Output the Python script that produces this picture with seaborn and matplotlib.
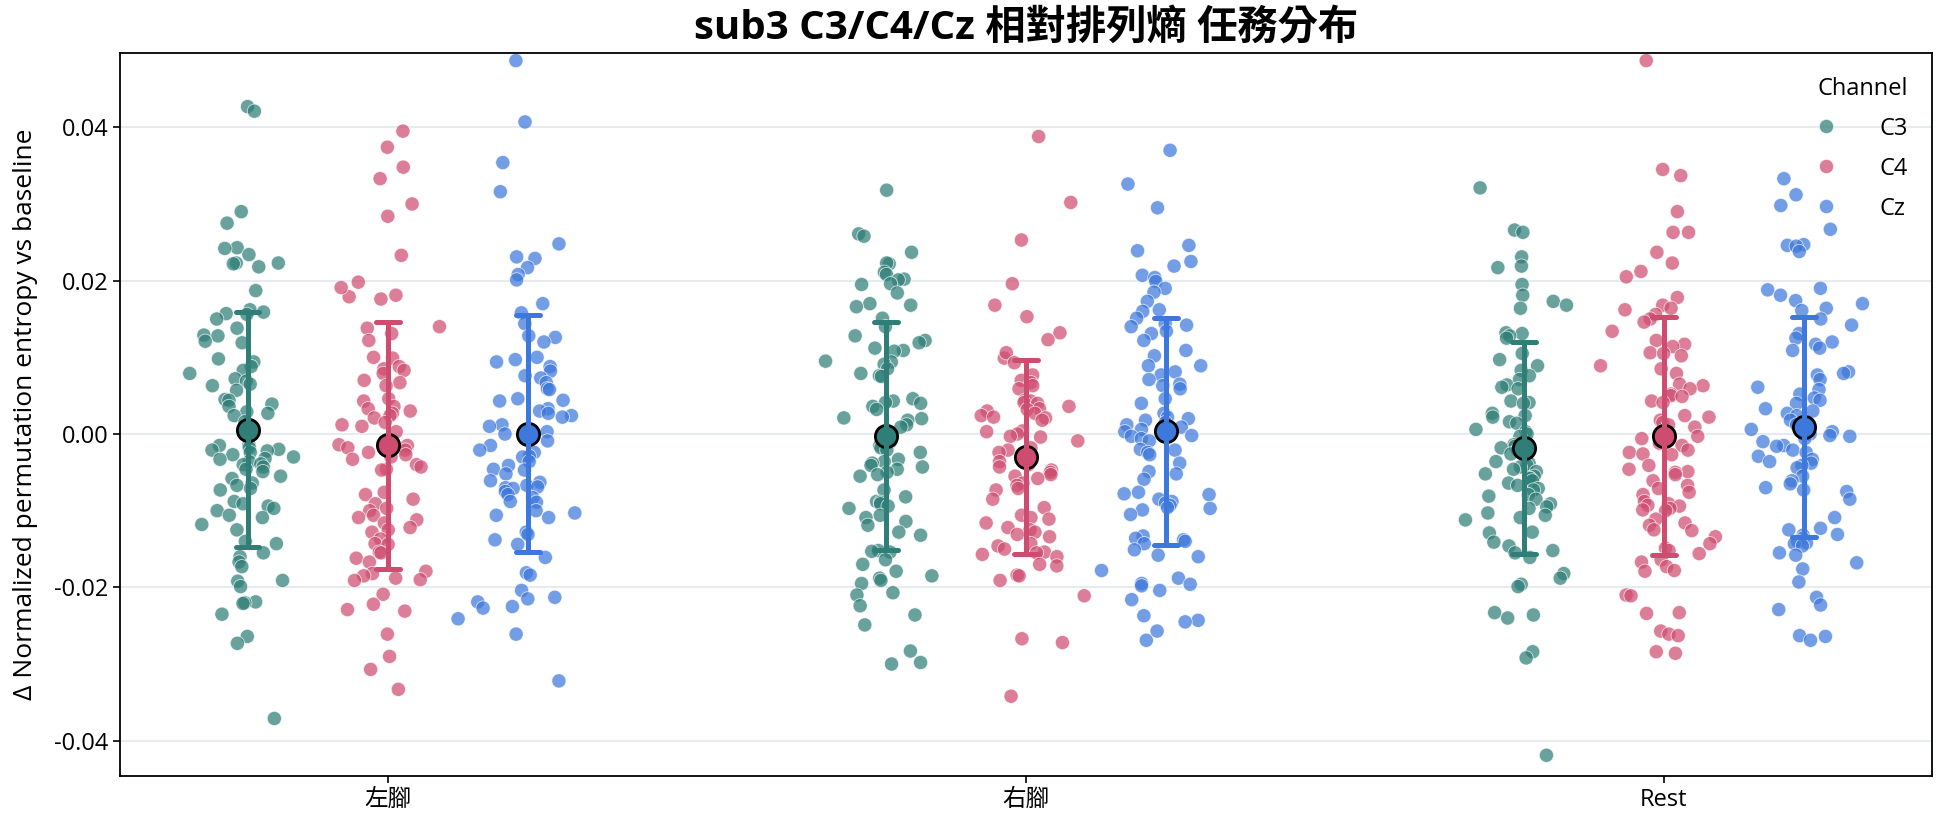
import numpy as np
import pandas as pd
import matplotlib
matplotlib.use("Agg")
import matplotlib.pyplot as plt
from matplotlib.ticker import FormatStrFormatter
import seaborn as sns

# ---------------- data ----------------
tasks = ["左腳", "右腳", "Rest"]
channels = ["C3", "C4", "Cz"]
palette = {"C3": "#2f7f78", "C4": "#cf4c71", "Cz": "#3d78dc"}

left_C3 = [0.0427, 0.0421, 0.0290, 0.0275, 0.0243, 0.0242, 0.0234, 0.0223, 0.0223, 0.0222, 0.0218,
           0.0187, 0.0162, 0.0157, 0.0156, 0.0159, 0.0150, 0.0138, 0.0129, 0.0128, 0.0121,
           0.0119, 0.0098, 0.0094, 0.0088, 0.0083, 0.0079, 0.0072, 0.0069, 0.0065, 0.0063, 0.0057,
           0.0045, 0.0044, 0.0039, 0.0036, 0.0029, 0.0027, 0.0024, 0.0016, 0.0009,
           -0.0014, -0.0015, -0.0018, -0.0020, -0.0021, -0.0022, -0.0024, -0.0027, -0.0030, -0.0032,
           -0.0033, -0.0036, -0.0039, -0.0040, -0.0043, -0.0046, -0.0049, -0.0055, -0.0058, -0.0064,
           -0.0067, -0.0071, -0.0073, -0.0088, -0.0091, -0.0094, -0.0097, -0.0100, -0.0106, -0.0109,
           -0.0118, -0.0125, -0.0140, -0.0143, -0.0155, -0.0160, -0.0167, -0.0173, -0.0191, -0.0192,
           -0.0199, -0.0219, -0.0220, -0.0221, -0.0235, -0.0264, -0.0273, -0.0371]
left_C4 = [0.0395, 0.0374, 0.0348, 0.0333, 0.0300, 0.0284, 0.0233, 0.0198, 0.0181, 0.0179, 0.0191, 0.0176,
           0.0138, 0.0131, 0.0140, 0.0122, 0.0100, 0.0099, 0.0088, 0.0085, 0.0079, 0.0083, 0.0067, 0.0070,
           0.0063, 0.0046, 0.0043, 0.0036, 0.0033, 0.0030, 0.0027, 0.0024, 0.0021, 0.0015, 0.0012, 0.0010,
           0.0003, -0.0014, -0.0015, -0.0018, -0.0021, -0.0024, -0.0027, -0.0030, -0.0033, -0.0040, -0.0043,
           -0.0046, -0.0047, -0.0076, -0.0079, -0.0085, -0.0091, -0.0097, -0.0100, -0.0106, -0.0109, -0.0112,
           -0.0116, -0.0122, -0.0125, -0.0128, -0.0137, -0.0143, -0.0144, -0.0154, -0.0155, -0.0162, -0.0167,
           -0.0179, -0.0182, -0.0185, -0.0188, -0.0190, -0.0191, -0.0209, -0.0222, -0.0229, -0.0231,
           -0.0261, -0.0290, -0.0307, -0.0333]
left_Cz = [0.0487, 0.0407, 0.0354, 0.0316, 0.0248, 0.0231, 0.0229, 0.0217, 0.0208, 0.0201,
           0.0170, 0.0158, 0.0144, 0.0128, 0.0126, 0.0120, 0.0100, 0.0097, 0.0094, 0.0088, 0.0082, 0.0076,
           0.0073, 0.0067, 0.0059, 0.0058, 0.0046, 0.0044, 0.0043, 0.0033, 0.0030, 0.0027, 0.0024, 0.0022,
           0.0012, 0.0010, 0.0003, 0.0000, -0.0004, -0.0009, -0.0015, -0.0021, -0.0024, -0.0029, -0.0030,
           -0.0036, -0.0041, -0.0046, -0.0047, -0.0052, -0.0061, -0.0063, -0.0067, -0.0069, -0.0070, -0.0071,
           -0.0075, -0.0079, -0.0083, -0.0088, -0.0089, -0.0100, -0.0103, -0.0106, -0.0109, -0.0128,
           -0.0131, -0.0138, -0.0144, -0.0161, -0.0181, -0.0184, -0.0204, -0.0213, -0.0215, -0.0219,
           -0.0225, -0.0227, -0.0241, -0.0261, -0.0322]
right_C3 = [0.0318, 0.0261, 0.0258, 0.0237, 0.0222, 0.0223, 0.0211, 0.0208, 0.0202, 0.0201, 0.0196, 0.0195,
            0.0184, 0.0170, 0.0168, 0.0166, 0.0151, 0.0140, 0.0128, 0.0122, 0.0119, 0.0112, 0.0109, 0.0108,
            0.0095, 0.0094, 0.0091, 0.0085, 0.0079, 0.0076, 0.0075, 0.0046, 0.0043, 0.0041, 0.0040, 0.0036,
            0.0032, 0.0021, 0.0020, 0.0018, 0.0012, 0.0009, -0.0006, -0.0010, -0.0015, -0.0018, -0.0021,
            -0.0024, -0.0033, -0.0036, -0.0038, -0.0041, -0.0043, -0.0046, -0.0050, -0.0053, -0.0055,
            -0.0073, -0.0082, -0.0088, -0.0089, -0.0091, -0.0094, -0.0097, -0.0106, -0.0109, -0.0114,
            -0.0119, -0.0128, -0.0132, -0.0152, -0.0153, -0.0154, -0.0164, -0.0170, -0.0179, -0.0185,
            -0.0188, -0.0191, -0.0195, -0.0207, -0.0210, -0.0224, -0.0236, -0.0249, -0.0283, -0.0298, -0.0300]
right_C4 = [0.0388, 0.0302, 0.0253, 0.0196, 0.0168, 0.0153, 0.0132, 0.0123, 0.0099, 0.0106,
            0.0093, 0.0077, 0.0070, 0.0067, 0.0063, 0.0059, 0.0044, 0.0043, 0.0041, 0.0040, 0.0036, 0.0033,
            0.0032, 0.0030, 0.0027, 0.0024, 0.0022, 0.0021, 0.0018, 0.0004, 0.0003, 0.0000, -0.0003,
            -0.0004, -0.0009, -0.0018, -0.0021, -0.0024, -0.0027, -0.0033, -0.0036, -0.0040, -0.0043,
            -0.0047, -0.0050, -0.0053, -0.0055, -0.0058, -0.0064, -0.0067, -0.0071, -0.0073, -0.0085,
            -0.0096, -0.0106, -0.0109, -0.0111, -0.0116, -0.0122, -0.0125, -0.0128, -0.0131, -0.0134,
            -0.0143, -0.0146, -0.0150, -0.0154, -0.0155, -0.0157, -0.0160, -0.0170, -0.0172, -0.0184,
            -0.0185, -0.0191, -0.0211, -0.0267, -0.0272, -0.0342]
right_Cz = [0.0370, 0.0326, 0.0295, 0.0246, 0.0239, 0.0225, 0.0219, 0.0207, 0.0204, 0.0199, 0.0190, 0.0185,
            0.0173, 0.0162, 0.0160, 0.0151, 0.0144, 0.0142, 0.0140, 0.0134, 0.0131, 0.0122, 0.0109, 0.0102,
            0.0089, 0.0089, 0.0081, 0.0077, 0.0071, 0.0065, 0.0063, 0.0059, 0.0046, 0.0040, 0.0027, 0.0022,
            0.0020, 0.0018, 0.0015, 0.0012, 0.0009, 0.0006, 0.0003, 0.0000, -0.0002, -0.0003,
            -0.0006, -0.0009, -0.0020, -0.0021, -0.0024, -0.0027, -0.0038, -0.0049, -0.0052, -0.0059,
            -0.0076, -0.0078, -0.0079, -0.0085, -0.0088, -0.0090, -0.0093, -0.0096, -0.0097, -0.0099,
            -0.0105, -0.0133, -0.0136, -0.0138, -0.0140, -0.0143, -0.0151, -0.0158, -0.0160, -0.0178,
            -0.0188, -0.0195, -0.0196, -0.0198, -0.0204, -0.0216, -0.0237, -0.0243, -0.0245, -0.0257, -0.0269]
rest_C3 = [0.0321, 0.0266, 0.0263, 0.0231, 0.0219, 0.0217, 0.0195, 0.0181, 0.0173, 0.0168, 0.0164,
           0.0132, 0.0131, 0.0128, 0.0125, 0.0105, 0.0097, 0.0089, 0.0083, 0.0076, 0.0071, 0.0064, 0.0061,
           0.0059, 0.0043, 0.0041, 0.0040, 0.0027, 0.0024, 0.0022, 0.0016, 0.0014, 0.0006, 0.0003, 0.0000,
           -0.0003, -0.0014, -0.0016, -0.0018, -0.0021, -0.0026, -0.0027, -0.0036, -0.0038, -0.0041,
           -0.0043, -0.0046, -0.0049, -0.0052, -0.0055, -0.0057, -0.0058, -0.0061, -0.0064, -0.0067,
           -0.0071, -0.0073, -0.0079, -0.0081, -0.0085, -0.0091, -0.0095, -0.0097, -0.0103, -0.0106,
           -0.0109, -0.0112, -0.0128, -0.0129, -0.0141, -0.0146, -0.0152, -0.0155, -0.0161, -0.0182,
           -0.0188, -0.0196, -0.0199, -0.0233, -0.0240, -0.0236, -0.0284, -0.0292, -0.0419]
rest_C4 = [0.0487, 0.0345, 0.0337, 0.0290, 0.0263, 0.0263, 0.0237, 0.0223, 0.0212, 0.0205,
           0.0178, 0.0168, 0.0164, 0.0162, 0.0156, 0.0150, 0.0146, 0.0134, 0.0122, 0.0117, 0.0114, 0.0106,
           0.0105, 0.0102, 0.0089, 0.0085, 0.0079, 0.0065, 0.0063, 0.0059, 0.0052, 0.0050, 0.0049, 0.0043,
           0.0041, 0.0024, 0.0022, 0.0018, 0.0015, 0.0012, 0.0009, 0.0004, -0.0003, -0.0006, -0.0009,
           -0.0012, -0.0015, -0.0021, -0.0024, -0.0026, -0.0027, -0.0041, -0.0046, -0.0049, -0.0050,
           -0.0053, -0.0061, -0.0067, -0.0071, -0.0076, -0.0079, -0.0088, -0.0091, -0.0093, -0.0094,
           -0.0097, -0.0099, -0.0100, -0.0111, -0.0116, -0.0119, -0.0125, -0.0126, -0.0134, -0.0143,
           -0.0149, -0.0152, -0.0156, -0.0164, -0.0167, -0.0173, -0.0178, -0.0179, -0.0210, -0.0211,
           -0.0233, -0.0234, -0.0257, -0.0261, -0.0263, -0.0284, -0.0286]
rest_Cz = [0.0333, 0.0312, 0.0298, 0.0267, 0.0247, 0.0246, 0.0245, 0.0238,
           0.0190, 0.0188, 0.0181, 0.0174, 0.0170, 0.0164, 0.0161, 0.0150, 0.0142, 0.0131, 0.0125, 0.0120,
           0.0117, 0.0112, 0.0109, 0.0081, 0.0079, 0.0077, 0.0071, 0.0061, 0.0058, 0.0052, 0.0047, 0.0044,
           0.0040, 0.0033, 0.0030, 0.0027, 0.0024, 0.0018, 0.0012, 0.0006, 0.0003, 0.0000, -0.0002, -0.0003,
           -0.0006, -0.0010, -0.0015, -0.0016, -0.0021, -0.0024, -0.0029, -0.0033, -0.0036, -0.0038,
           -0.0041, -0.0044, -0.0055, -0.0061, -0.0065, -0.0070, -0.0073, -0.0075, -0.0085, -0.0109,
           -0.0123, -0.0125, -0.0131, -0.0132, -0.0136, -0.0140, -0.0142, -0.0143, -0.0146, -0.0155,
           -0.0158, -0.0168, -0.0176, -0.0193, -0.0213, -0.0223, -0.0229, -0.0263, -0.0264, -0.0269]

groups = {
    ("左腳", "C3"): left_C3, ("左腳", "C4"): left_C4, ("左腳", "Cz"): left_Cz,
    ("右腳", "C3"): right_C3, ("右腳", "C4"): right_C4, ("右腳", "Cz"): right_Cz,
    ("Rest", "C3"): rest_C3, ("Rest", "C4"): rest_C4, ("Rest", "Cz"): rest_Cz,
}

rows = []
for (t, c), vals in groups.items():
    for v in vals:
        rows.append((t, c, v))
df = pd.DataFrame(rows, columns=["Task", "Channel", "value"])

# layout: dodge offsets + jitter (positions only)
offsets = {"C3": -0.22, "C4": 0.0, "Cz": 0.22}
df["pos"] = df["Task"].map({t: i for i, t in enumerate(tasks)}) + df["Channel"].map(offsets)
rng = np.random.default_rng(7)
df["xj"] = df["pos"] + np.clip(rng.normal(0, 0.036, len(df)), -0.11, 0.11)

# ---------------- style ----------------
sns.set_theme(style="white")
plt.rcParams["font.family"] = ["Open Sans", "Noto Sans CJK TC", "DejaVu Sans"]
plt.rcParams["axes.unicode_minus"] = False
plt.rcParams["text.color"] = "black"
plt.rcParams["axes.labelcolor"] = "black"
plt.rcParams["xtick.color"] = "black"
plt.rcParams["ytick.color"] = "black"

fig, ax = plt.subplots(figsize=(19.44, 8.27), dpi=100)
fig.subplots_adjust(left=0.0617, right=0.9938, top=0.936, bottom=0.0617)

ax.yaxis.grid(True, color="#dfe6ee", linewidth=1.1)
ax.set_axisbelow(True)

sns.scatterplot(data=df, x="xj", y="value", hue="Channel", hue_order=channels,
                palette=palette, s=105, alpha=0.72, edgecolor="white", linewidth=0.6,
                ax=ax, zorder=2)

sns.pointplot(data=df, x="pos", y="value", hue="Channel", hue_order=channels,
              palette=palette, native_scale=True, errorbar="sd", capsize=0.17,
              linestyle="none", markers="o", markersize=16, markeredgecolor="black",
              markeredgewidth=2.0, err_kws={"linewidth": 3.6}, legend=False, ax=ax)

for line in ax.lines:
    line.set_zorder(4)

ax.set_xlim(-0.42, 2.42)
ax.set_ylim(-0.0446, 0.0497)
ax.set_xticks(range(len(tasks)))
ax.set_xticklabels(tasks)
ax.set_yticks([-0.04, -0.02, 0.0, 0.02, 0.04])
ax.yaxis.set_major_formatter(FormatStrFormatter("%.2f"))
ax.tick_params(axis="both", labelsize=17, length=5, width=1.2, direction="out",
               left=True, bottom=True, colors="black", labelcolor="black")
ax.set_xlabel("")
ax.set_ylabel("Δ Normalized permutation entropy vs baseline", fontsize=19, labelpad=11,
              color="black")
ax.set_title("sub3 C3/C4/Cz 相對排列熵 任務分布", fontsize=29, fontweight="bold", pad=10,
             color="black")

for sp in ax.spines.values():
    sp.set_visible(True)
    sp.set_color("black")
    sp.set_linewidth(1.3)

handles, labels = ax.get_legend_handles_labels()
leg = ax.legend(handles, labels, title="Channel", frameon=False, loc="upper right",
                fontsize=17, title_fontsize=17, markerscale=1.0, labelspacing=0.68,
                handletextpad=1.3, borderaxespad=0.6, labelcolor="black")
leg.get_title().set_color("black")
leg._legend_box.align = "right"

fig.savefig("out.png", dpi=100)
